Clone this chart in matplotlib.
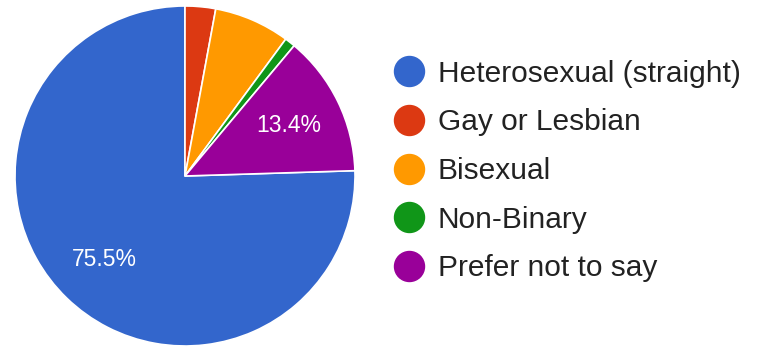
import matplotlib.pyplot as plt
from matplotlib.lines import Line2D

plt.rcParams['font.family'] = ['Liberation Sans', 'DejaVu Sans']

# survey answers, in legend order
labels = ['Heterosexual (straight)', 'Gay or Lesbian', 'Bisexual', 'Non-Binary', 'Prefer not to say']
shares = [75.5, 2.9, 7.2, 1.0, 13.4]
colors = ['#3366cc', '#dc3912', '#ff9900', '#109618', '#990099']

fig = plt.figure(figsize=(7.57, 3.51), dpi=100)
ax = fig.add_axes([15 / 757, 5 / 351, 340 / 757, 340 / 351])

# first slice ends at 12 o'clock, the rest follow clockwise from there
start = 90 + 360 * shares[0] / sum(shares)


def pct_label(p):
    return f'{p:.1f}%' if p > 10 else ''


wedges, texts, autotexts = ax.pie(
    shares, colors=colors, startangle=start, counterclock=False,
    autopct=pct_label, pctdistance=0.68,
    wedgeprops=dict(edgecolor='white', linewidth=1.2),
    textprops=dict(color='white', fontsize=16.5))
ax.set_xlim(-1, 1)
ax.set_ylim(-1, 1)
ax.set_aspect('equal')

handles = [Line2D([], [], marker='o', linestyle='', markersize=21.6,
                  markerfacecolor=c, markeredgecolor=c) for c in colors]
fig.legend(handles, labels, loc='center left',
           bbox_to_anchor=(394 / 757, 1 - 171 / 351),
           frameon=False, fontsize=21.5, handlelength=1.0, handletextpad=0.47,
           labelspacing=0.69, borderpad=0, borderaxespad=0, labelcolor='#222222')

fig.savefig('out.png', dpi=100)
